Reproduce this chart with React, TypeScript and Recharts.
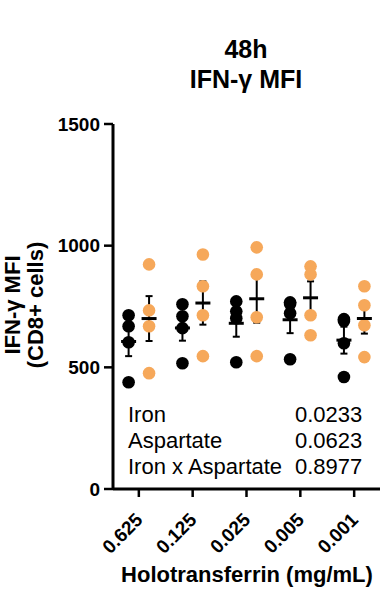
import { ComposedChart, Scatter, XAxis, YAxis, ErrorBar } from "recharts";

// Holotransferrin doses (mg/mL)
const doses = ["0.625", "0.125", "0.025", "0.005", "0.001"];

// IFN-γ MFI per replicate, one row per dose
const blackValues = [
  [714, 669, 603, 439],
  [759, 710, 661, 517],
  [771, 730, 702, 521],
  [767, 760, 722, 533],
  [698, 690, 599, 460],
];
const orangeValues = [
  [923, 734, 669, 476],
  [964, 833, 714, 546],
  [993, 882, 706, 546],
  [915, 882, 714, 632],
  [833, 755, 673, 542],
];

const yTicks = [0, 500, 1000, 1500];

const statNames = ["Iron", "Aspartate", "Iron x Aspartate"];
const statValues = ["0.0233", "0.0623", "0.8977"];

const FONT = "'Liberation Sans', Arial, sans-serif";
const ORANGE = "#F6A85A";
const OFFSET = 0.19;

const mean = (a: number[]) => a.reduce((s, v) => s + v, 0) / a.length;
const sem = (a: number[]) => {
  const m = mean(a);
  const sd = Math.sqrt(a.reduce((s, v) => s + (v - m) ** 2, 0) / (a.length - 1));
  return sd / Math.sqrt(a.length);
};

const points = (rows: number[][], dx: number) =>
  rows.flatMap((r, i) => r.map((v) => ({ x: i + dx, y: v })));
const summary = (rows: number[][], dx: number) =>
  rows.map((r, i) => ({ x: i + dx, y: mean(r), err: sem(r) }));

const blackPts = points(blackValues, -OFFSET);
const orangePts = points(orangeValues, OFFSET);
const blackMean = summary(blackValues, -OFFSET);
const orangeMean = summary(orangeValues, OFFSET);

function Dot(props: any) {
  const { cx, cy, fill } = props;
  return <circle cx={cx} cy={cy} r={6.3} fill={fill} />;
}

function MeanBar(props: any) {
  const { cx, cy } = props;
  return <line x1={cx - 7.5} x2={cx + 7.5} y1={cy} y2={cy} stroke="#000" strokeWidth={3} />;
}

function XTick(props: any) {
  const { x, y, payload } = props;
  const ax = x + 5;
  const ay = y + 22;
  return (
    <text
      x={ax}
      y={ay}
      transform={`rotate(-45 ${ax} ${ay})`}
      textAnchor="end"
      fontFamily={FONT}
      fontWeight="bold"
      fontSize={19}
      fill="#000"
    >
      {doses[payload.value]}
    </text>
  );
}

export default function App() {
  return (
    <div style={{ position: "absolute", left: 0, top: 0, width: 392, height: 594, background: "#fff" }}>
      <ComposedChart
        width={392}
        height={594}
        margin={{ top: 124, right: 12, bottom: 0, left: 0 }}
      >
        <XAxis
          type="number"
          dataKey="x"
          domain={[-0.48, 4.48]}
          ticks={[0, 1, 2, 3, 4]}
          interval={0}
          allowDataOverflow
          height={105}
          tickSize={8}
          tickMargin={2}
          tick={<XTick />}
          axisLine={{ stroke: "#000", strokeWidth: 3 }}
          tickLine={{ stroke: "#000", strokeWidth: 2.5 }}
        />
        <YAxis
          type="number"
          dataKey="y"
          domain={[0, 1500]}
          ticks={yTicks}
          interval={0}
          width={113}
          tickSize={9}
          tickMargin={4}
          tick={{ fill: "#000", fontFamily: FONT, fontWeight: "bold", fontSize: 19 }}
          axisLine={{ stroke: "#000", strokeWidth: 3 }}
          tickLine={{ stroke: "#000", strokeWidth: 2.5 }}
        />
        <Scatter data={blackPts} fill="#000" shape={<Dot />} isAnimationActive={false} />
        <Scatter data={orangePts} fill={ORANGE} shape={<Dot />} isAnimationActive={false} />
        <Scatter data={blackMean} fill="#000" shape={<MeanBar />} isAnimationActive={false}>
          <ErrorBar dataKey="err" direction="y" width={3.5} stroke="#000" strokeWidth={2} isAnimationActive={false} />
        </Scatter>
        <Scatter data={orangeMean} fill="#000" shape={<MeanBar />} isAnimationActive={false}>
          <ErrorBar dataKey="err" direction="y" width={3.5} stroke="#000" strokeWidth={2} isAnimationActive={false} />
        </Scatter>
      </ComposedChart>
      <svg
        width={392}
        height={594}
        style={{ position: "absolute", left: 0, top: 0, pointerEvents: "none" }}
        fontFamily={FONT}
      >
        <text x={246} y={58} textAnchor="middle" fontWeight="bold" fontSize={25}>48h</text>
        <text x={246} y={88} textAnchor="middle" fontWeight="bold" fontSize={25}>IFN-γ MFI</text>
        <text transform="translate(20 305) rotate(-90)" textAnchor="middle" fontWeight="bold" fontSize={22}>IFN-γ MFI</text>
        <text transform="translate(43 305) rotate(-90)" textAnchor="middle" fontWeight="bold" fontSize={22}>(CD8+ cells)</text>
        {statNames.map((n, i) => (
          <text key={n} x={128} y={422 + i * 26} fontSize={22}>{n}</text>
        ))}
        {statValues.map((v, i) => (
          <text key={v} x={295} y={422 + i * 26} fontSize={22}>{v}</text>
        ))}
        <text x={247} y={582} textAnchor="middle" fontWeight="bold" fontSize={22}>Holotransferrin (mg/mL)</text>
      </svg>
    </div>
  );
}
